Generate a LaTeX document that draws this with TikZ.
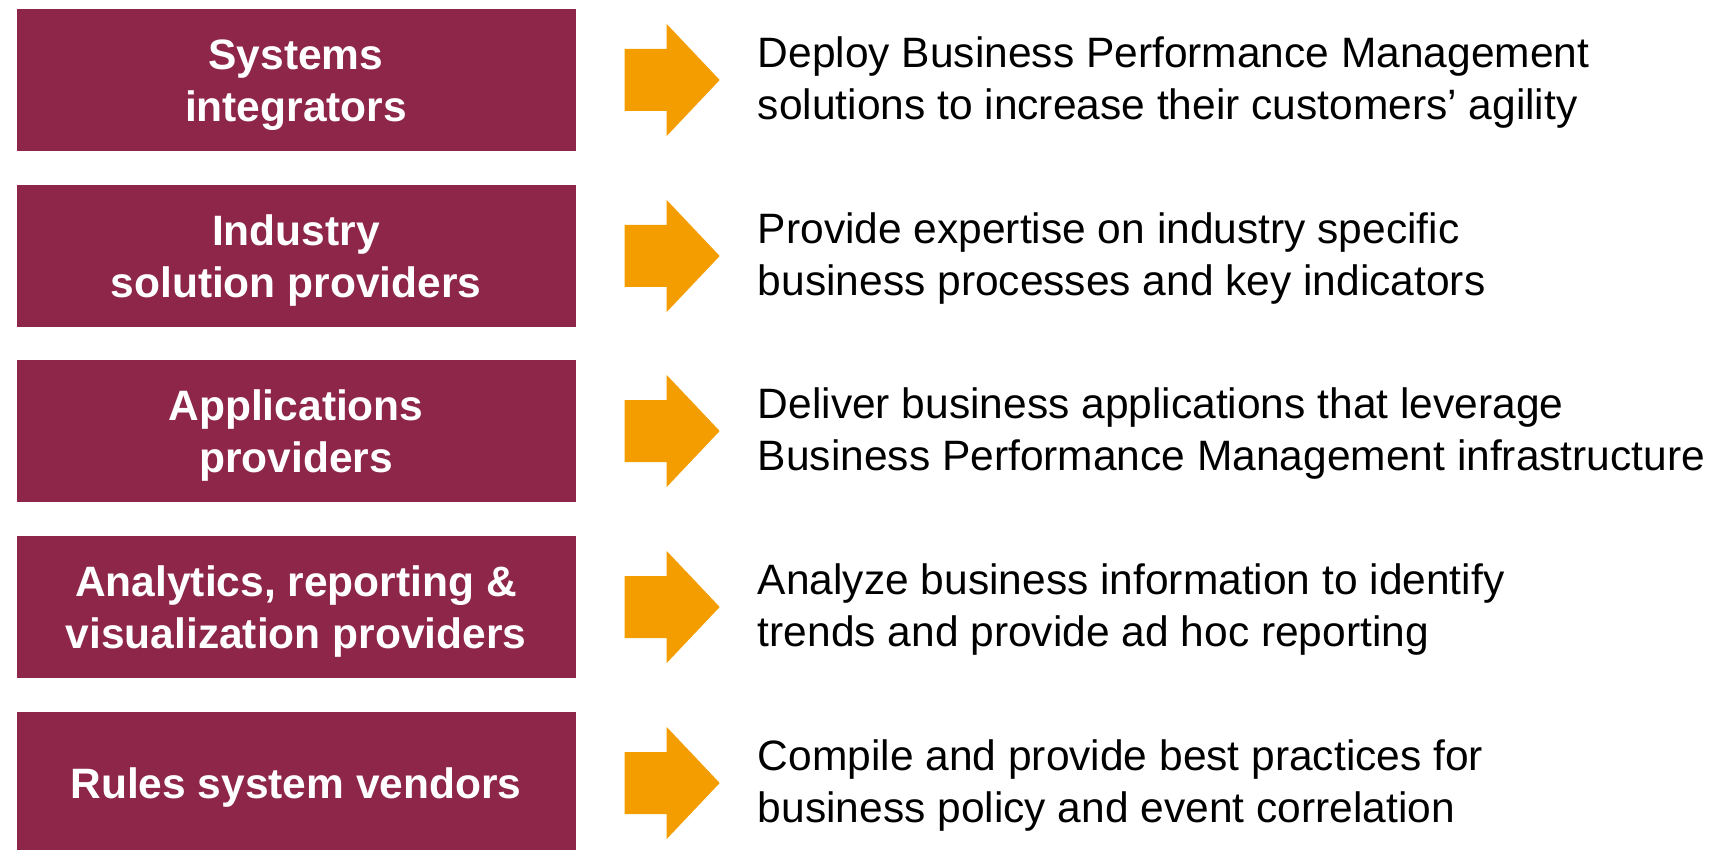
\documentclass[tikz,border=0pt]{standalone}
\usepackage{fontspec}
\setmainfont{Liberation Sans}
\usepackage{tikz}
\usetikzlibrary{positioning}

\definecolor{boxred}{RGB}{142,38,73}
\definecolor{arroworange}{RGB}{243,157,0}

\tikzset{
  partner/.style={fill=boxred, inner sep=0pt,
    minimum width=559pt, minimum height=142pt},
  partnertext/.style={text=white, inner sep=0pt, align=center, yshift=-5pt,
    font=\fontsize{42.5}{52}\selectfont\bfseries},
  role/.style={inner sep=0pt, align=left, right=182pt of #1, yshift=-2.5pt,
    font=\fontsize{42.5}{52}\selectfont},
  blockarrow/.style={fill=arroworange},
}

\begin{document}
\begin{tikzpicture}[x=1pt, y=-1pt]

  \useasboundingbox (0,0) rectangle (1727,850);

  % partner boxes
  \draw (296,80) node[partner, name=si, label={[partnertext]center:Systems\\integrators}] {};
  \draw (296,256) node[partner, name=isp, label={[partnertext]center:Industry\\solution providers}] {};
  \draw (296,431) node[partner, name=ap, label={[partnertext]center:Applications\\providers}] {};
  \draw (296,607) node[partner, name=arv, label={[partnertext]center:Analytics, reporting \&\\visualization providers}] {};
  \draw (296,783) node[partner, name=rsv, label={[partnertext]center:Rules system vendors}] {};

  % arrows
  \fill[blockarrow] ([xshift=49pt]si.east) ++(0,-31) -- ++(42,0) -- ++(0,-25) -- ++(53,56) -- ++(-53,56) -- ++(0,-25) -- ++(-42,0) -- cycle;
  \fill[blockarrow] ([xshift=49pt]isp.east) ++(0,-31) -- ++(42,0) -- ++(0,-25) -- ++(53,56) -- ++(-53,56) -- ++(0,-25) -- ++(-42,0) -- cycle;
  \fill[blockarrow] ([xshift=49pt]ap.east) ++(0,-31) -- ++(42,0) -- ++(0,-25) -- ++(53,56) -- ++(-53,56) -- ++(0,-25) -- ++(-42,0) -- cycle;
  \fill[blockarrow] ([xshift=49pt]arv.east) ++(0,-31) -- ++(42,0) -- ++(0,-25) -- ++(53,56) -- ++(-53,56) -- ++(0,-25) -- ++(-42,0) -- cycle;
  \fill[blockarrow] ([xshift=49pt]rsv.east) ++(0,-31) -- ++(42,0) -- ++(0,-25) -- ++(53,56) -- ++(-53,56) -- ++(0,-25) -- ++(-42,0) -- cycle;

  % what each partner brings
  \node[role=si, name=si-role] {Deploy Business Performance Management\\solutions to increase their customers’ agility};
  \node[role=isp, name=isp-role] {Provide expertise on industry specific\\business processes and key indicators};
  \node[role=ap, name=ap-role] {Deliver business applications that leverage\\Business Performance Management infrastructure};
  \node[role=arv, name=arv-role] {Analyze business information to identify\\trends and provide ad hoc reporting};
  \node[role=rsv, name=rsv-role] {Compile and provide best practices for\\business policy and event correlation};

\end{tikzpicture}
\end{document}
